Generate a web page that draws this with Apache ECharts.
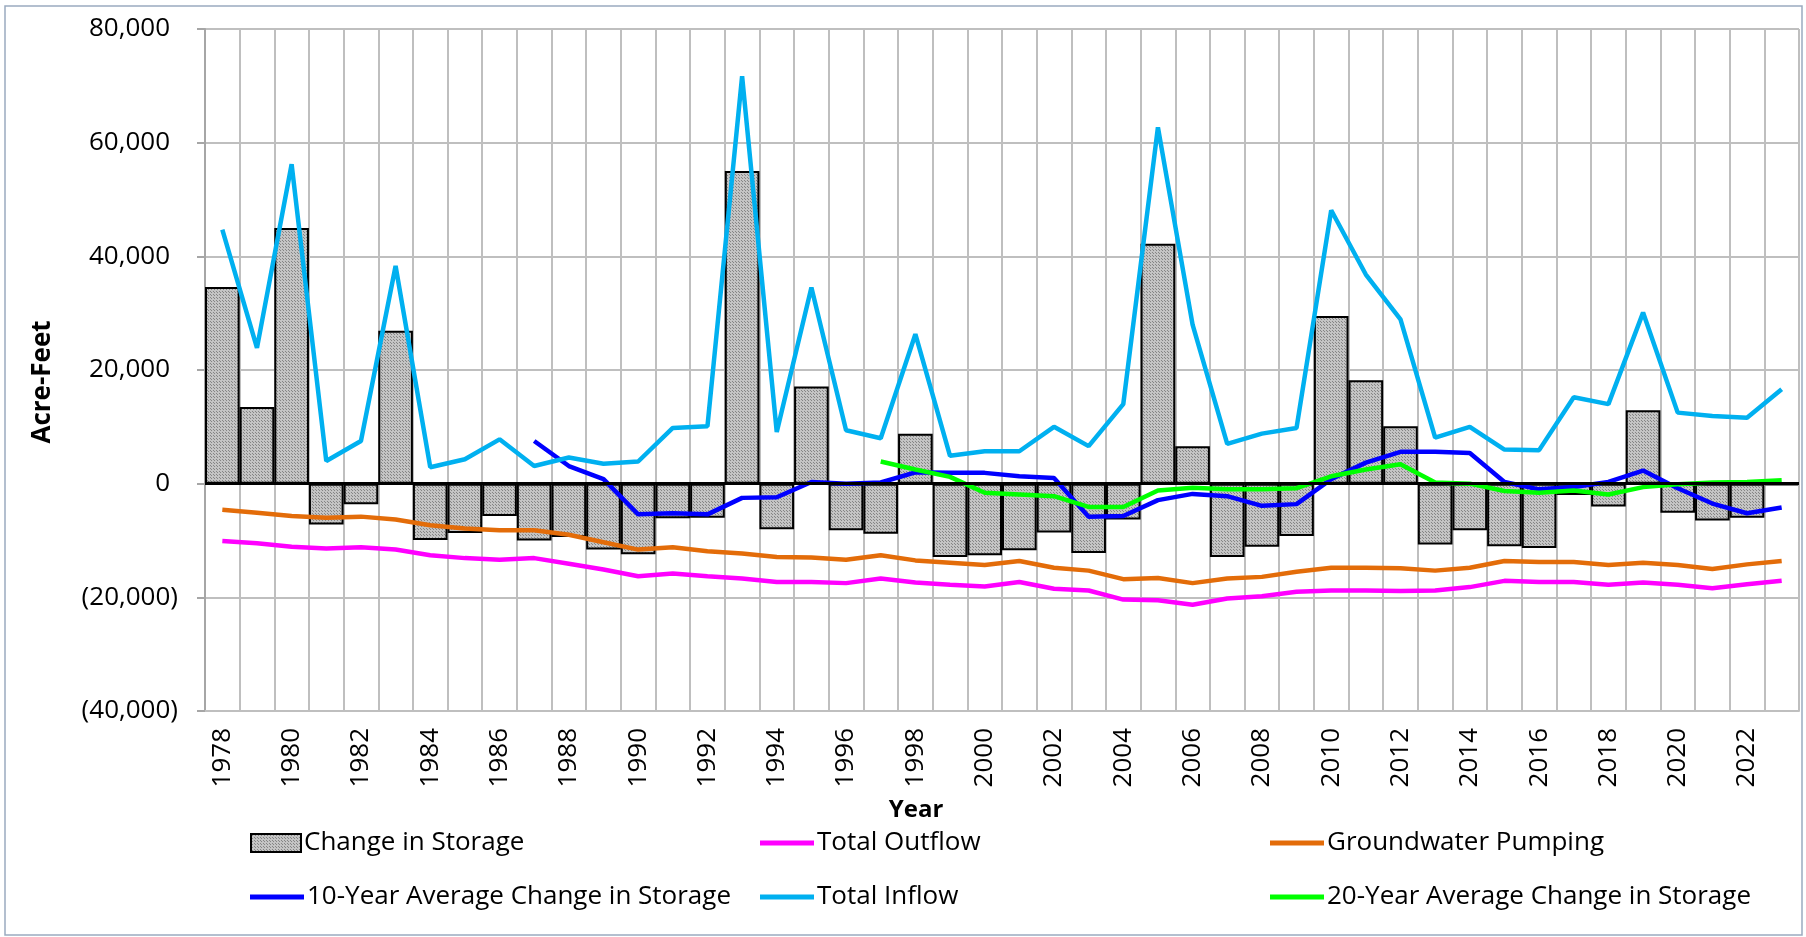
<!DOCTYPE html>
<html><head><meta charset="utf-8">
<script src="https://cdn.jsdelivr.net/npm/echarts@6/dist/echarts.min.js"></script>
<style>html,body{margin:0;padding:0;background:#fff}#c{width:1806px;height:937px}</style>
</head><body><div id="c"></div>
<script>
const years = ['1978','1979','1980','1981','1982','1983','1984','1985','1986','1987','1988','1989','1990','1991','1992','1993','1994','1995','1996','1997','1998','1999','2000','2001','2002','2003','2004','2005','2006','2007','2008','2009','2010','2011','2012','2013','2014','2015','2016','2017','2018','2019','2020','2021','2022','2023'];
const changeInStorage = [34600,13500,45000,-7200,-3600,26900,-9900,-8700,-5700,-10000,-9400,-11600,-12400,-6100,-6000,55000,-8000,17100,-8200,-8800,8800,-12900,-12600,-11700,-8600,-12200,-6300,42200,6600,-12900,-11100,-9200,29500,18200,10100,-10700,-8200,-11000,-11300,-2000,-4000,12900,-5100,-6500,-6000,-300];
const totalOutflow = [-10100,-10500,-11100,-11400,-11200,-11600,-12600,-13100,-13400,-13100,-14100,-15100,-16300,-15800,-16300,-16700,-17300,-17300,-17500,-16700,-17400,-17800,-18100,-17300,-18500,-18800,-20400,-20500,-21300,-20200,-19800,-19000,-18800,-18800,-18900,-18800,-18200,-17100,-17300,-17300,-17800,-17400,-17800,-18400,-17700,-17100];
const groundwaterPumping = [-4600,-5100,-5700,-6000,-5800,-6300,-7300,-7900,-8200,-8200,-9000,-10300,-11600,-11200,-11900,-12300,-12900,-13000,-13400,-12600,-13500,-13900,-14300,-13600,-14800,-15300,-16800,-16600,-17500,-16700,-16400,-15500,-14800,-14800,-14900,-15300,-14800,-13600,-13800,-13800,-14300,-13900,-14300,-15000,-14200,-13600];
const avg10 = [null,null,null,null,null,null,null,null,null,7500,3100,800,-5400,-5200,-5400,-2500,-2400,300,0,200,2000,1900,1900,1300,1000,-5800,-5700,-2900,-1800,-2200,-3900,-3600,800,3700,5600,5600,5400,300,-1000,-600,300,2300,-800,-3500,-5200,-4200];
const totalInflow = [44700,23900,56200,4000,7500,38300,2900,4300,7800,3100,4600,3500,3900,9800,10100,71700,9100,34500,9400,8000,26300,4900,5700,5700,10000,6600,14000,62700,28000,7000,8800,9800,48100,36800,28900,8100,10000,6000,5900,15200,14000,30100,12500,11900,11600,16600];
const avg20 = [null,null,null,null,null,null,null,null,null,null,null,null,null,null,null,null,null,null,null,3900,2500,1200,-1600,-1900,-2200,-4100,-4100,-1200,-700,-1000,-1000,-800,1300,2500,3400,200,0,-1300,-1600,-1200,-1900,-600,-100,200,300,600];
const yMin = -40000, yMax = 80000, yStep = 20000;

const FF = "'Open Sans', 'Noto Sans', sans-serif";
const pc = document.createElement('canvas'); pc.width = 3; pc.height = 3;
const cx = pc.getContext('2d');
cx.fillStyle = '#c4c4c4'; cx.fillRect(0,0,3,3);
cx.fillStyle = '#858585'; cx.fillRect(0,0,1,1); cx.fillRect(1,1,1,1);
const barFill = {image: pc, repeat: 'repeat'};

const fmt = v => Math.abs(v).toLocaleString('en-US');
const chart = echarts.init(document.getElementById('c'), null, {width:1806, height:937});

function lg(name, left, centerY, w, h) {
  return {data:[name], left:left, top:centerY-16, padding:0, itemGap:0, icon:'rect',
    itemWidth:w, itemHeight:h, selectedMode:false,
    textStyle:{fontSize:26, fontFamily:FF, color:'#000', lineHeight:32, padding:[0,0,0,-2]}};
}

const option = {
  animation:false,
  backgroundColor:'#fff',
  textStyle:{fontFamily:FF},
  grid:{left:205, right:7, top:29, bottom:226},
  xAxis:{type:'category', data:years, boundaryGap:true,
    axisLine:{show:true, onZero:false, lineStyle:{color:'#bfbfbf', width:2}},
    axisTick:{show:false, interval:0},
    splitLine:{show:true, interval:0, lineStyle:{color:'#bfbfbf', width:2}},
    axisLabel:{interval:1, rotate:90, margin:17, fontSize:26, color:'#000', fontFamily:FF}},
  yAxis:{type:'value', min:yMin, max:yMax, interval:yStep,
    axisLine:{show:true, lineStyle:{color:'#a6a6a6', width:2}},
    axisTick:{show:true, length:8, lineStyle:{color:'#a6a6a6', width:2}},
    splitLine:{show:true, lineStyle:{color:'#bfbfbf', width:2}},
    axisLabel:{margin:27, fontSize:26, color:'#000', fontFamily:FF,
      formatter: v => v < 0 ? '(' + fmt(v) + ')' : '{p|' + fmt(v) + '}',
      rich:{p:{fontSize:26, fontFamily:FF, color:'#000', padding:[0,8,0,0]}}}},
  legend:[
    lg('Change in Storage', 250, 843, 50, 18),
    lg('10-Year Average Change in Storage', 250, 897, 54, 5),
    lg('Total Outflow', 760, 843, 54, 5),
    lg('Total Inflow', 760, 897, 54, 5),
    lg('Groundwater Pumping', 1270, 843, 54, 5),
    lg('20-Year Average Change in Storage', 1270, 897, 54, 5)
  ],
  graphic:[
    {type:'rect', silent:true, z:100, shape:{x:5, y:6, width:1797, height:929},
      style:{fill:'none', stroke:'#9aaac0', lineWidth:1.5}},
    {type:'text', silent:true, x:43, y:382, rotation:Math.PI/2,
      style:{text:'Acre-Feet', font:"bold 26px 'Open Sans', sans-serif", fill:'#000',
        align:'center', verticalAlign:'middle', textAlign:'center', textVerticalAlign:'middle'}},
    {type:'text', silent:true, x:916, y:810,
      style:{text:'Year', font:"bold 24px 'Open Sans', sans-serif", fill:'#000',
        align:'center', verticalAlign:'middle', textAlign:'center', textVerticalAlign:'middle'}}
  ],
  series:[
    {type:'bar', name:'Change in Storage', data:changeInStorage, barCategoryGap:'0%',
      itemStyle:{color:barFill, borderColor:'#000', borderWidth:2},
      markLine:{silent:true, symbol:['none','none'], label:{show:false}, animation:false,
        lineStyle:{color:'#000', width:3, type:'solid'}, data:[{yAxis:0}]}},
    {type:'line', name:'Total Outflow', data:totalOutflow, symbol:'none',
      lineStyle:{color:'#ff00ff', width:4.5}, itemStyle:{color:'#ff00ff'}},
    {type:'line', name:'Groundwater Pumping', data:groundwaterPumping, symbol:'none',
      lineStyle:{color:'#e36c09', width:4.5}, itemStyle:{color:'#e36c09'}},
    {type:'line', name:'10-Year Average Change in Storage', data:avg10, symbol:'none',
      lineStyle:{color:'#0000ff', width:4.5}, itemStyle:{color:'#0000ff'}},
    {type:'line', name:'Total Inflow', data:totalInflow, symbol:'none',
      lineStyle:{color:'#00b0f0', width:4.5}, itemStyle:{color:'#00b0f0'}},
    {type:'line', name:'20-Year Average Change in Storage', data:avg20, symbol:'none',
      lineStyle:{color:'#00ff00', width:4.5}, itemStyle:{color:'#00ff00'}}
  ]
};
chart.setOption(option);
</script></body></html>
